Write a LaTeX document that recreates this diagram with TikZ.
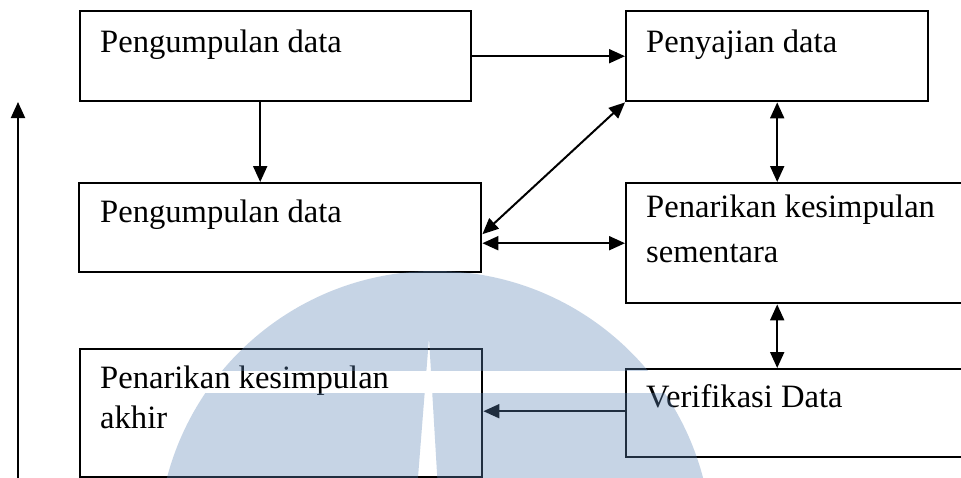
\documentclass[tikz,border=0pt]{standalone}
\usepackage{fontspec}
\setmainfont{Liberation Serif}
\usetikzlibrary{arrows.meta}
\definecolor{wmblue}{RGB}{92,132,181}
\tikzset{
  box/.style={draw, line width=2.4pt, inner sep=0pt, anchor=north west},
  lbl/.style={anchor=base west, inner sep=0pt, align=left,
              font=\fontsize{32.6}{42}\selectfont},
  arr/.style={line width=2pt, -{Triangle[length=16pt,width=14pt]}},
  darr/.style={line width=2pt, {Triangle[length=16pt,width=14pt]}-{Triangle[length=16pt,width=14pt]}},
  wm/.style={fill=wmblue, fill opacity=0.35, even odd rule}
}
\begin{document}
\begin{tikzpicture}[x=1pt, y=-1pt]
\useasboundingbox (0,0) rectangle (961,477);
\clip (0,0) rectangle (961,477);
\fill[white] (0,0) rectangle (961,477);

% boxes
\node[box, minimum width=391pt, minimum height=90pt]  (b1) at (79,10)  {};
\node[box, minimum width=302pt, minimum height=90pt]  (b2) at (625,10) {};
\node[box, minimum width=402pt, minimum height=89pt]  (b3) at (78,182) {};
\node[box, minimum width=370pt, minimum height=120pt] (b4) at (625,182) {};
\node[box, minimum width=402pt, minimum height=128pt] (b5) at (79,348) {};
\node[box, minimum width=370pt, minimum height=88pt]  (b6) at (625,368) {};

% labels (two-line labels are placed by their last baseline)
\node[lbl] (t1) at (100,52)  {Pengumpulan data};
\node[lbl] (t2) at (646,52)  {Penyajian data};
\node[lbl] (t3) at (100,222) {Pengumpulan data};
\node[lbl] (t4) at (646,262) {Penarikan kesimpulan\\[3pt]sementara};
\node[lbl] (t5) at (100,428) {Penarikan kesimpulan\\[-2pt]akhir};
\node[lbl] (t6) at (646,407) {Verifikasi Data};

% connectors
\draw[arr]  (b1.east) -- (b2.west);
\draw[arr]  ([xshift=-15.5pt]b1.south) -- ([xshift=-15.5pt]b1.south |- b3.north);
\draw[darr] (b2.south) -- (b2.south |- b4.north);
\draw[darr] ([yshift=-6.5pt]b3.east) -- (b2.south west);
\draw[darr] ([yshift=-15.5pt]b3.east) -- ([yshift=-15.5pt]b3.east -| b4.west);
\draw[darr] (b2.south |- b4.south) -- (b2.south |- b6.north);
\draw[arr]  ([yshift=2pt]b6.west) -- ([yshift=2pt]b6.west -| b5.east);
\coordinate (loopfoot) at (18,480);
\coordinate (looptop)  at (18,102);
\draw[arr]  (loopfoot) -- (looptop);

% background emblem
\begin{scope}
  \clip (0,0) rectangle (961,370);
  \fill[wm] (435,548) circle[radius=277pt] (429,338) -- (417,490) -- (438,490) -- cycle;
\end{scope}
\begin{scope}
  \clip (0,393) rectangle (961,477);
  \fill[wm] (435,548) circle[radius=277pt] (429,338) -- (417,490) -- (438,490) -- cycle;
\end{scope}
\end{tikzpicture}
\end{document}
